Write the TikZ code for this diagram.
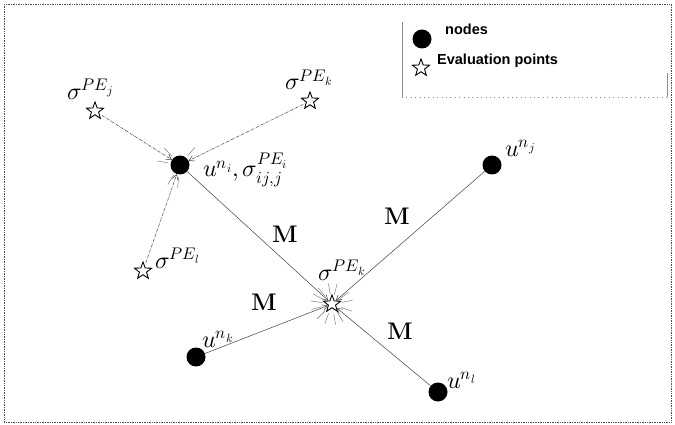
\documentclass[tikz,border=0pt]{standalone}
\usepackage{fontspec}
\usepackage{unicode-math}
\setmathfont{Latin Modern Math}
\newfontfamily\legfont{Liberation Sans}
\usetikzlibrary{shapes.geometric,arrows.meta}
\tikzset{
  dotnode/.style={circle,fill=black,minimum size=19pt,inner sep=0pt},
  starnode/.style={star,star points=5,star point ratio=2.4,draw=black,fill=white,line width=0.9pt,minimum size=18pt,inner sep=0pt},
  mlabel/.style={font=\fontsize{24}{28}\selectfont,inner sep=0pt,anchor=base west},
  mtext/.style={font=\fontsize{24}{28}\selectfont,inner sep=0pt},
  link/.style={draw=black!75,line width=0.5pt,-{Straight Barb[length=5pt,width=6pt]}},
  evallink/.style={link,densely dashdotted,shorten <=3pt},
  burst/.style={draw=black!55,line width=0.45pt},
  legtext/.style={font=\legfont\bfseries\fontsize{14.5}{16}\selectfont,inner sep=0pt,anchor=base west},
  frame/.style={draw=black!70,densely dotted,line width=0.7pt},
  legbox/.style={draw=black!45,line width=0.4pt}
}
\begin{document}
\begin{tikzpicture}[x=1pt,y=-1pt]
\useasboundingbox (0,0) rectangle (675,425);
\draw[frame] (4,4) rectangle (671,422);
% legend
\draw[legbox] (402,22) -- (402,97);
\draw[legbox,loosely dotted] (402,97) -- (667,97);
\draw[legbox] (667,73) -- (667,97);
\node[dotnode] (legdot) at (422,39) {};
\node[legtext] (legnodes) at (445,35) {nodes};
\node[starnode] (legstar) at (421,68) {};
\node[legtext] (legeval) at (437,65) {Evaluation points};
% nodes
\node[dotnode] (ni) at (180,165) {};
\node[dotnode] (nj) at (492,165) {};
\node[dotnode] (nk) at (196,357) {};
\node[dotnode] (nl) at (438,392) {};
% evaluation points
\node[starnode] (sj) at (95,111) {};
\node[starnode] (sk) at (310,101) {};
\node[starnode] (sl) at (143,271) {};
\node[starnode] (sc) at (332,304) {};
% labels
\node[mlabel] (lsj) at (67,100) {$\sigma^{PE_j}$};
\node[mlabel] (lsk) at (285,90) {$\sigma^{PE_k}$};
\node[mlabel] (lsl) at (155,268) {$\sigma^{PE_l}$};
\node[mlabel] (lsc) at (318,280) {$\sigma^{PE_k}$};
\node[mlabel] (lni) at (203,177) {$u^{n_i},\sigma^{PE_i}_{ij,j}$};
\node[mlabel] (lnj) at (505,157) {$u^{n_j}$};
\node[mlabel] (lnk) at (202,347) {$u^{n_k}$};
\node[mlabel] (lnl) at (447,388) {$u^{n_l}$};
% connectors
\draw[evallink] (sj) -- (ni);
\draw[evallink] (sk) -- (ni);
\draw[evallink] (sl) -- (ni);
\draw[link] (ni) -- (sc);
\draw[link] (nj) -- (sc);
\draw[link] (nk) -- (sc);
\draw[link] (nl) -- (sc);
% M labels
\node[mtext] (m1) at (285,234) {$\mathbf{M}$};
\node[mtext] (m2) at (264,302) {$\mathbf{M}$};
\node[mtext] (m3) at (397,216) {$\mathbf{M}$};
\node[mtext] (m4) at (400,331) {$\mathbf{M}$};
% bursts
\foreach \a in {170,133,50,238,264}
  \draw[burst] (ni) ++(\a:12pt) -- ++(\a:11pt);
\foreach \a in {10,35,76,100,131,152,172,195,225,250,280,302,340}
  \draw[burst] (sc) ++(\a:10pt) -- ++(\a:11pt);
\end{tikzpicture}
\end{document}
